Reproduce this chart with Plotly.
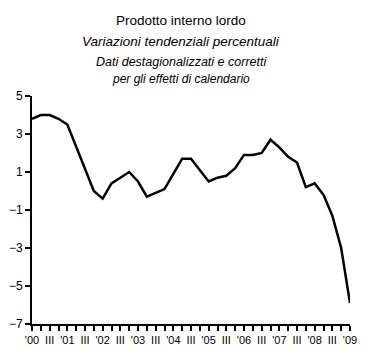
import plotly.graph_objects as go

quarters = list(range(37))
values = [3.8, 4.0, 4.0, 3.8, 3.5, 2.3, 1.1, 0.0, -0.4, 0.4, 0.7, 1.0, 0.5, -0.3, -0.1, 0.1,
          0.9, 1.7, 1.7, 1.1, 0.5, 0.7, 0.8, 1.2, 1.9, 1.9, 2.0, 2.7, 2.3, 1.8, 1.5, 0.2,
          0.4, -0.2, -1.3, -3.0, -5.9]
years = ["'00", "'01", "'02", "'03", "'04", "'05", "'06", "'07", "'08", "'09"]
tick_text = []
for i in quarters:
    if i % 4 == 0:
        tick_text.append(years[i // 4])
    elif i % 4 == 2:
        tick_text.append("III")
    else:
        tick_text.append("")
y_ticks = [5, 3, 1, -1, -3, -5, -7]

title_lines = ["Prodotto interno lordo", "Variazioni tendenziali percentuali",
               "Dati destagionalizzati e corretti", "per gli effetti di calendario"]

# page body has an 8px default margin; figure is sized to fit the remaining area
OFF = 8
W, H = 375 - OFF, 359 - OFF
L, R, T, B = 32 - OFF, 25, 96 - OFF, 35
ph = H - T - B
pw = W - L - R

fig = go.Figure()
fig.add_trace(go.Scatter(x=quarters, y=values, mode="lines",
                         line=dict(color="black", width=2.5), hoverinfo="skip"))

fam = "Liberation Sans, Arial"
centers = [20, 42, 62, 79]
styles = [dict(size=13.5, style="normal"),
          dict(size=13.5, style="italic"),
          dict(size=12.5, style="italic"),
          dict(size=12, style="italic")]
for text, cy, st in zip(title_lines, centers, styles):
    fig.add_annotation(text=text, xref="paper", yref="paper",
                       x=(181 - 32) / pw, y=1 + (96 - cy) / ph,
                       xanchor="center", yanchor="middle", showarrow=False,
                       font=dict(family=fam, size=st["size"], color="black",
                                 style=st["style"]))

fig.update_layout(
    width=W, height=H, margin=dict(l=L, r=R, t=T, b=B, autoexpand=False),
    paper_bgcolor="white", plot_bgcolor="white", showlegend=False,
    font=dict(family=fam, size=11, color="black"),
)
fig.update_xaxes(range=[0, 36], tickvals=quarters, ticktext=tick_text, ticks="outside",
                 ticklen=5, tickwidth=1.5, tickcolor="black", showline=True,
                 linecolor="black", linewidth=2, showgrid=False, zeroline=False,
                 tickangle=0, tickfont=dict(size=11), automargin=False)
fig.update_yaxes(range=[-7, 5], tickvals=y_ticks, ticks="outside", ticklen=5,
                 tickwidth=1.5, tickcolor="black", showline=True, linecolor="black",
                 linewidth=2, showgrid=False, zeroline=False, tickfont=dict(size=12),
                 automargin=False)

fig.write_html("out.html")
